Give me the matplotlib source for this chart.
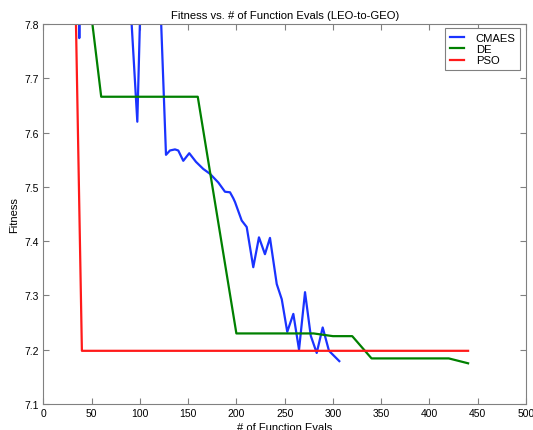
import matplotlib
matplotlib.use("Agg")
import matplotlib.pyplot as plt

plt.rcParams['font.family'] = ['Liberation Sans', 'DejaVu Sans']

# CMAES run (values above 7.8 fall outside the visible window)
cmaes_x = [35, 37.3, 39.5, 85, 97.4, 103, 118, 127.1, 131.2, 136.4, 139.8, 145.0,
           151.2, 158.2, 165.7, 172.7, 181.3, 188.2, 193.4, 196.8, 198.6, 205.5,
           210.7, 217.5, 223.4, 229.6, 234.8, 241.8, 247.0, 252.7, 259.0, 264.9,
           271.1, 277.0, 283.2, 289.4, 295.9, 306.6]
cmaes_y = [8.2, 7.774, 8.2, 8.0, 7.62, 8.0, 8.0, 7.559, 7.567, 7.569, 7.567, 7.548,
           7.562, 7.546, 7.533, 7.524, 7.508, 7.491, 7.490, 7.479, 7.472, 7.438,
           7.426, 7.352, 7.407, 7.376, 7.406, 7.321, 7.293, 7.233, 7.266, 7.200,
           7.306, 7.226, 7.194, 7.241, 7.198, 7.179]

de_x = [40, 60, 160, 200, 280, 300, 320, 340, 420, 440]
de_y = [7.96, 7.666, 7.666, 7.230, 7.230, 7.225, 7.225, 7.184, 7.184, 7.175]

pso_x = [30, 40, 440]
pso_y = [8.18, 7.198, 7.198]

fig = plt.figure(figsize=(5.33, 4.31), dpi=100)
ax = fig.add_axes([0.0812, 0.0603, 0.9057, 0.8817])

ax.plot(cmaes_x, cmaes_y, color=(0.1, 0.2, 1.0), lw=1.6, label='CMAES')
ax.plot(de_x, de_y, color=(0, 0.5, 0), lw=1.6, label='DE')
ax.plot(pso_x, pso_y, color=(1, 0.1, 0.1), lw=1.6, label='PSO')

ax.set_xlim(0, 500)
ax.set_ylim(7.1, 7.8)
ax.set_xticks(range(0, 501, 50))
ax.set_yticks([7.1, 7.2, 7.3, 7.4, 7.5, 7.6, 7.7, 7.8])
ax.set_yticklabels(['7.1', '7.2', '7.3', '7.4', '7.5', '7.6', '7.7', '7.8'])

for s in ax.spines.values():
    s.set_color('#808080')
    s.set_linewidth(0.8)
ax.tick_params(direction='in', top=True, right=True, length=4, width=0.8,
               color='#808080', labelsize=7.5, pad=3)

ax.set_title('Fitness vs. # of Function Evals (LEO-to-GEO)', fontsize=8.1, pad=4)
ax.set_xlabel('# of Function Evals', fontsize=8, labelpad=3)
ax.set_ylabel('Fitness', fontsize=8, labelpad=4)

leg = ax.legend(loc='upper right', bbox_to_anchor=(0.9876, 0.9887), borderaxespad=0,
                fontsize=8.1, fancybox=False, framealpha=1, edgecolor='#808080',
                handlelength=1.3, handletextpad=1.0, labelspacing=0.12,
                borderpad=0.4)
leg.get_frame().set_linewidth(0.8)

fig.savefig('out.png', dpi=100)
